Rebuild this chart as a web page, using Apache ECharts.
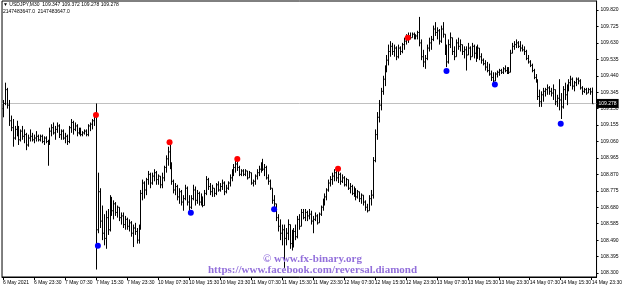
<!DOCTYPE html>
<html>
<head>
<meta charset="utf-8">
<script src="https://cdn.jsdelivr.net/npm/echarts@6/dist/echarts.min.js"></script>
<style>html,body{margin:0;padding:0;background:#fff}#chart{width:625px;height:288px}</style>
</head>
<body>
<div id="chart"></div>
<script>
// ---- data ----
const headerLine1 = "\u25BC USDJPY,M30  109.347 109.372 109.278 109.278";
const headerLine2 = "2147483647.0  2147483647.0";
const watermark1 = "\u00A9 www.fx-binary.org";
const watermark2 = "https://www.facebook.com/reversal.diamond";
const currentPrice = 109.278;
const yMin = 108.277;
const yMax = 109.872;
const priceTicks = [108.300,108.395,108.490,108.585,108.680,108.775,108.870,108.965,109.060,109.155,109.250,109.345,109.440,109.535,109.630,109.725,109.820];
const timeLabels = ["6 May 2021","6 May 23:30","7 May 07:30","7 May 15:30","7 May 23:30","10 May 07:30","10 May 15:30","10 May 23:30","11 May 07:30","11 May 15:30","11 May 23:30","12 May 07:30","12 May 15:30","12 May 23:30","13 May 07:30","13 May 15:30","13 May 23:30","14 May 07:30","14 May 15:30","14 May 23:30"];
const labelEvery = 16;
const emptySlotsRight = 2;
// [open, high, low, close] per M30 bar
const ohlcBars = [
[109.25,109.30,109.20,109.28],[109.28,109.40,109.27,109.36],[109.36,109.37,109.25,109.27],[109.27,109.30,109.15,109.18],
[109.18,109.21,109.12,109.14],[109.14,109.19,109.03,109.08],[109.08,109.15,109.07,109.13],[109.13,109.18,109.09,109.11],
[109.11,109.15,109.04,109.07],[109.07,109.13,109.06,109.12],[109.12,109.15,109.07,109.09],[109.09,109.13,109.05,109.10],
[109.10,109.11,109.01,109.04],[109.04,109.10,109.03,109.08],[109.08,109.13,109.06,109.09],[109.09,109.11,109.06,109.07],
[109.07,109.10,109.05,109.08],[109.08,109.12,109.06,109.09],[109.09,109.10,109.06,109.07],[109.07,109.10,109.06,109.09],
[109.09,109.10,109.05,109.06],[109.06,109.09,109.04,109.08],[109.08,109.09,109.05,109.06],[109.06,109.07,108.92,109.05],
[109.05,109.14,109.04,109.12],[109.12,109.16,109.09,109.14],[109.14,109.17,109.10,109.11],[109.11,109.15,109.07,109.13],
[109.13,109.17,109.11,109.15],[109.15,109.16,109.08,109.10],[109.10,109.13,109.07,109.12],[109.12,109.13,109.07,109.08],
[109.08,109.11,109.05,109.09],[109.09,109.10,109.04,109.06],[109.06,109.15,109.05,109.14],[109.14,109.19,109.11,109.17],
[109.17,109.18,109.10,109.13],[109.13,109.17,109.12,109.15],[109.15,109.16,109.09,109.11],[109.11,109.14,109.10,109.13],
[109.13,109.14,109.09,109.10],[109.10,109.12,109.09,109.11],[109.11,109.13,109.10,109.12],[109.12,109.13,109.09,109.10],
[109.10,109.16,109.09,109.15],[109.15,109.17,109.12,109.16],[109.16,109.19,109.13,109.18],[109.18,109.22,109.15,109.21],
[109.21,109.28,108.32,108.55],[108.55,108.88,108.53,108.77],[108.77,108.79,108.56,108.60],[108.60,108.69,108.49,108.53],
[108.53,108.64,108.46,108.50],[108.50,108.66,108.44,108.62],[108.62,108.67,108.52,108.55],[108.55,108.75,108.54,108.72],
[108.72,108.74,108.63,108.66],[108.66,108.72,108.61,108.70],[108.70,108.71,108.63,108.65],[108.65,108.69,108.62,108.68],
[108.68,108.68,108.60,108.62],[108.62,108.65,108.58,108.63],[108.63,108.65,108.56,108.58],[108.58,108.63,108.55,108.61],
[108.61,108.62,108.55,108.57],[108.57,108.61,108.54,108.59],[108.59,108.60,108.51,108.53],[108.53,108.58,108.45,108.56],
[108.56,108.59,108.52,108.54],[108.54,108.56,108.47,108.49],[108.49,108.58,108.47,108.56],[108.56,108.78,108.55,108.76],
[108.76,108.84,108.72,108.82],[108.82,108.83,108.73,108.78],[108.78,108.85,108.75,108.84],[108.84,108.89,108.81,108.87],
[108.87,108.88,108.79,108.82],[108.82,108.88,108.81,108.86],[108.86,108.90,108.83,108.88],[108.88,108.89,108.81,108.84],
[108.84,108.87,108.81,108.86],[108.86,108.86,108.79,108.81],[108.81,108.88,108.79,108.85],[108.85,108.92,108.83,108.91],
[108.91,108.98,108.88,108.96],[108.96,109.03,108.92,109.00],[109.00,109.04,108.90,108.93],[108.93,108.94,108.81,108.83],
[108.83,108.84,108.76,108.78],[108.78,108.82,108.75,108.80],[108.80,108.81,108.72,108.74],[108.74,108.79,108.70,108.77],
[108.77,108.78,108.69,108.71],[108.71,108.75,108.66,108.73],[108.73,108.81,108.72,108.79],[108.79,108.80,108.69,108.71],
[108.71,108.75,108.66,108.68],[108.68,108.75,108.67,108.73],[108.73,108.81,108.72,108.78],[108.78,108.80,108.69,108.72],
[108.72,108.78,108.70,108.76],[108.76,108.77,108.69,108.71],[108.71,108.76,108.69,108.74],[108.74,108.74,108.68,108.69],
[108.69,108.78,108.69,108.76],[108.76,108.86,108.75,108.84],[108.84,108.85,108.78,108.80],[108.80,108.82,108.75,108.77],
[108.77,108.81,108.74,108.79],[108.79,108.79,108.74,108.76],[108.76,108.82,108.75,108.81],[108.81,108.83,108.77,108.78],
[108.78,108.82,108.77,108.80],[108.80,108.84,108.78,108.82],[108.82,108.83,108.75,108.77],[108.77,108.81,108.76,108.79],
[108.79,108.83,108.78,108.82],[108.82,108.87,108.80,108.85],[108.85,108.90,108.83,108.88],[108.88,108.93,108.86,108.91],
[108.91,108.95,108.88,108.93],[108.93,108.945,108.89,108.91],[108.91,108.92,108.86,108.87],[108.87,108.90,108.86,108.89],
[108.89,108.90,108.86,108.87],[108.87,108.90,108.86,108.89],[108.89,108.89,108.84,108.85],[108.85,108.89,108.85,108.88],
[108.88,108.88,108.81,108.82],[108.82,108.84,108.80,108.83],[108.83,108.87,108.81,108.86],[108.86,108.90,108.84,108.88],
[108.88,108.92,108.86,108.90],[108.90,108.94,108.88,108.92],[108.92,108.96,108.89,108.90],[108.90,108.93,108.86,108.91],
[108.91,108.92,108.84,108.85],[108.85,108.87,108.81,108.83],[108.83,108.84,108.78,108.79],[108.79,108.79,108.70,108.72],
[108.72,108.75,108.68,108.70],[108.70,108.70,108.60,108.62],[108.62,108.64,108.54,108.57],[108.57,108.61,108.49,108.53],
[108.53,108.58,108.46,108.55],[108.55,108.58,108.33,108.50],[108.50,108.56,108.46,108.53],[108.53,108.61,108.49,108.58],
[108.58,108.58,108.44,108.47],[108.47,108.55,108.43,108.45],[108.45,108.56,108.45,108.54],[108.54,108.58,108.49,108.51],
[108.51,108.63,108.50,108.61],[108.61,108.64,108.55,108.57],[108.57,108.67,108.57,108.65],[108.65,108.67,108.61,108.62],
[108.62,108.67,108.60,108.65],[108.65,108.66,108.60,108.63],[108.63,108.67,108.61,108.64],[108.64,108.66,108.58,108.60],
[108.60,108.63,108.53,108.61],[108.61,108.65,108.60,108.63],[108.63,108.64,108.58,108.59],[108.59,108.65,108.59,108.64],
[108.64,108.69,108.63,108.68],[108.68,108.73,108.66,108.71],[108.71,108.76,108.69,108.74],[108.74,108.79,108.72,108.78],
[108.78,108.84,108.77,108.82],[108.82,108.86,108.80,108.84],[108.84,108.88,108.81,108.86],[108.86,108.90,108.83,108.88],
[108.88,108.89,108.83,108.85],[108.85,108.89,108.82,108.87],[108.87,108.88,108.81,108.83],[108.83,108.87,108.82,108.85],
[108.85,108.86,108.80,108.81],[108.81,108.85,108.80,108.84],[108.84,108.84,108.78,108.79],[108.79,108.82,108.76,108.80],
[108.80,108.81,108.75,108.76],[108.76,108.80,108.74,108.78],[108.78,108.79,108.72,108.74],[108.74,108.78,108.73,108.77],
[108.77,108.77,108.71,108.73],[108.73,108.76,108.70,108.75],[108.75,108.75,108.69,108.71],[108.71,108.72,108.66,108.68],
[108.68,108.70,108.65,108.66],[108.66,108.75,108.66,108.73],[108.73,108.78,108.69,108.75],[108.75,108.97,108.73,108.95],
[108.95,109.13,108.94,109.10],[109.10,109.23,109.07,109.20],[109.20,109.30,109.17,109.27],[109.27,109.37,109.24,109.35],
[109.35,109.44,109.33,109.42],[109.42,109.50,109.38,109.47],[109.47,109.56,109.46,109.53],[109.53,109.62,109.50,109.58],
[109.58,109.64,109.55,109.61],[109.61,109.63,109.56,109.58],[109.58,109.62,109.55,109.60],[109.60,109.61,109.53,109.55],
[109.55,109.62,109.54,109.60],[109.60,109.61,109.56,109.58],[109.58,109.63,109.57,109.62],[109.62,109.66,109.59,109.64],
[109.64,109.68,109.62,109.66],[109.66,109.69,109.63,109.67],[109.67,109.69,109.65,109.66],[109.66,109.69,109.66,109.68],
[109.68,109.69,109.65,109.67],[109.67,109.68,109.65,109.67],[109.67,109.70,109.65,109.69],[109.69,109.78,109.61,109.63],
[109.63,109.65,109.53,109.55],[109.55,109.59,109.49,109.52],[109.52,109.56,109.48,109.54],[109.54,109.62,109.53,109.60],
[109.60,109.66,109.58,109.63],[109.63,109.67,109.59,109.65],[109.65,109.73,109.64,109.71],[109.71,109.75,109.67,109.69],
[109.69,109.72,109.65,109.70],[109.70,109.71,109.62,109.64],[109.64,109.73,109.63,109.71],[109.71,109.75,109.66,109.68],
[109.68,109.68,109.56,109.58],[109.58,109.62,109.49,109.52],[109.52,109.65,109.51,109.62],[109.62,109.69,109.60,109.66],
[109.66,109.66,109.56,109.58],[109.58,109.61,109.53,109.55],[109.55,109.65,109.55,109.63],[109.63,109.66,109.59,109.61],
[109.61,109.65,109.58,109.62],[109.62,109.62,109.56,109.58],[109.58,109.61,109.54,109.59],[109.59,109.61,109.47,109.56],
[109.56,109.63,109.56,109.60],[109.60,109.61,109.53,109.55],[109.55,109.63,109.55,109.61],[109.61,109.62,109.54,109.57],
[109.57,109.61,109.52,109.54],[109.54,109.62,109.54,109.60],[109.60,109.60,109.53,109.55],[109.55,109.57,109.51,109.53],
[109.53,109.54,109.50,109.51],[109.51,109.53,109.47,109.49],[109.49,109.52,109.46,109.47],[109.47,109.51,109.44,109.45],
[109.45,109.47,109.41,109.43],[109.43,109.46,109.40,109.41],[109.41,109.46,109.41,109.45],[109.45,109.47,109.43,109.46],
[109.46,109.48,109.44,109.47],[109.47,109.48,109.45,109.46],[109.46,109.49,109.45,109.48],[109.48,109.50,109.46,109.47],
[109.47,109.49,109.45,109.48],[109.48,109.49,109.45,109.46],[109.46,109.59,109.46,109.57],[109.57,109.63,109.57,109.61],
[109.61,109.64,109.59,109.62],[109.62,109.65,109.60,109.63],[109.63,109.64,109.60,109.61],[109.61,109.64,109.58,109.60],
[109.60,109.62,109.58,109.59],[109.59,109.61,109.56,109.58],[109.58,109.59,109.53,109.54],[109.54,109.56,109.51,109.52],
[109.52,109.53,109.49,109.50],[109.50,109.51,109.46,109.47],[109.47,109.48,109.42,109.43],[109.43,109.45,109.40,109.41],
[109.41,109.42,109.30,109.32],[109.32,109.36,109.26,109.29],[109.29,109.35,109.26,109.33],[109.33,109.37,109.29,109.35],
[109.35,109.37,109.32,109.36],[109.36,109.39,109.33,109.37],[109.37,109.38,109.33,109.35],[109.35,109.37,109.32,109.34],
[109.34,109.39,109.30,109.36],[109.36,109.36,109.27,109.29],[109.29,109.33,109.26,109.31],[109.31,109.42,109.24,109.30],
[109.30,109.34,109.19,109.26],[109.26,109.38,109.25,109.36],[109.36,109.40,109.30,109.33],[109.33,109.39,109.27,109.37],
[109.37,109.42,109.35,109.40],[109.40,109.44,109.38,109.42],[109.42,109.43,109.36,109.38],[109.38,109.41,109.35,109.40],
[109.40,109.43,109.38,109.42],[109.42,109.43,109.39,109.41],[109.41,109.42,109.36,109.37],[109.37,109.38,109.33,109.35],
[109.35,109.37,109.34,109.36],[109.36,109.37,109.33,109.34],[109.34,109.37,109.34,109.36],[109.36,109.37,109.33,109.347],
[109.347,109.372,109.278,109.278]
];
// signal dots: [bar index, price]
const redDots = [[48,109.213],[86,109.055],[121,108.959],[173,108.903],[209,109.660]];
const blueDots = [[49,108.458],[97,108.648],[140,108.668],[229,109.467],[254,109.390],[288,109.163]];

// ---- chart ----
const slotCount = ohlcBars.length + emptySlotsRight;
const categories = [];
for (let i = 0; i < slotCount; i++) categories.push(String(i));
const barData = ohlcBars.map((b, i) => [i, b[0], b[1], b[2], b[3]]);

function renderOHLC(params, api) {
  const i = api.value(0);
  const pO = api.coord([i, api.value(1)]);
  const pH = api.coord([i, api.value(2)]);
  const pL = api.coord([i, api.value(3)]);
  const pC = api.coord([i, api.value(4)]);
  const x = Math.round(pO[0]) + 0.5;
  const st = () => ({ stroke: '#000', lineWidth: 1 });
  return {
    type: 'group',
    children: [
      { type: 'line', shape: { x1: x, y1: pH[1], x2: x, y2: pL[1] }, style: st() },
      { type: 'line', shape: { x1: x - 1, y1: pO[1], x2: x, y2: pO[1] }, style: st() },
      { type: 'line', shape: { x1: x, y1: pC[1], x2: x + 1, y2: pC[1] }, style: st() }
    ]
  };
}

const smallFont = { fontFamily: 'Liberation Sans', fontSize: 5, color: '#000' };
const wmStyle = { fontFamily: 'Liberation Serif', fontWeight: 'bold', fontSize: 11, color: '#9370DB' };

const chart = echarts.init(document.getElementById('chart'), null, { renderer: 'canvas' });
chart.setOption({
  animation: false,
  backgroundColor: '#fff',
  title: [
    { text: headerLine1, subtext: headerLine2, left: 3, top: 2, padding: 0, itemGap: 2,
      textStyle: Object.assign({ fontWeight: 'normal' }, smallFont),
      subtextStyle: Object.assign({ fontWeight: 'normal' }, smallFont) },
    { text: watermark1, left: 'center', top: 254, padding: 0, textStyle: wmStyle, z: 10 },
    { text: watermark2, left: 'center', top: 265, padding: 0, textStyle: wmStyle, z: 10 }
  ],
  grid: { left: 1, right: 23, top: 1, bottom: 11, show: true, borderColor: '#000', borderWidth: 1, containLabel: false },
  xAxis: {
    type: 'category',
    data: categories,
    boundaryGap: true,
    axisLine: { show: true, lineStyle: { color: '#000', width: 1 } },
    axisTick: { show: true, interval: labelEvery - 1, alignWithLabel: true, length: 3, lineStyle: { color: '#000' } },
    axisLabel: {
      show: true, interval: labelEvery - 1, align: 'left', margin: 3,
      fontFamily: 'Liberation Sans', fontSize: 5, color: '#000', hideOverlap: false,
      formatter: (v, idx) => (idx % labelEvery === 0 && timeLabels[idx / labelEvery]) ? timeLabels[idx / labelEvery] : ''
    },
    splitLine: { show: false }
  },
  yAxis: {
    type: 'value',
    position: 'right',
    min: yMin,
    max: yMax,
    scale: true,
    axisLine: { show: true, lineStyle: { color: '#000', width: 1 } },
    axisTick: { show: true, length: 2, customValues: priceTicks, lineStyle: { color: '#000' } },
    axisLabel: {
      show: true, customValues: priceTicks, margin: 4,
      fontFamily: 'Liberation Sans', fontSize: 5, color: '#000',
      formatter: v => Number(v).toFixed(3)
    },
    splitLine: { show: false }
  },
  series: [
    {
      type: 'custom',
      renderItem: renderOHLC,
      data: barData,
      encode: { x: 0, y: [1, 2, 3, 4] },
      clip: true,
      z: 3,
      markLine: {
        silent: true,
        symbol: ['none', 'none'],
        z: 1,
        lineStyle: { color: '#c0c0c0', type: 'solid', width: 1 },
        label: {
          show: true, position: 'end', distance: 0,
          formatter: currentPrice.toFixed(3),
          backgroundColor: '#000', color: '#fff',
          fontFamily: 'Liberation Sans', fontSize: 5, padding: [2, 2]
        },
        data: [{ yAxis: currentPrice }]
      }
    },
    {
      type: 'scatter', data: redDots, symbol: 'circle', symbolSize: 6,
      itemStyle: { color: '#ff0000', opacity: 1 }, z: 5, silent: true
    },
    {
      type: 'scatter', data: blueDots, symbol: 'circle', symbolSize: 6,
      itemStyle: { color: '#0000ff', opacity: 1 }, z: 5, silent: true
    }
  ]
});
</script>
</body>
</html>
